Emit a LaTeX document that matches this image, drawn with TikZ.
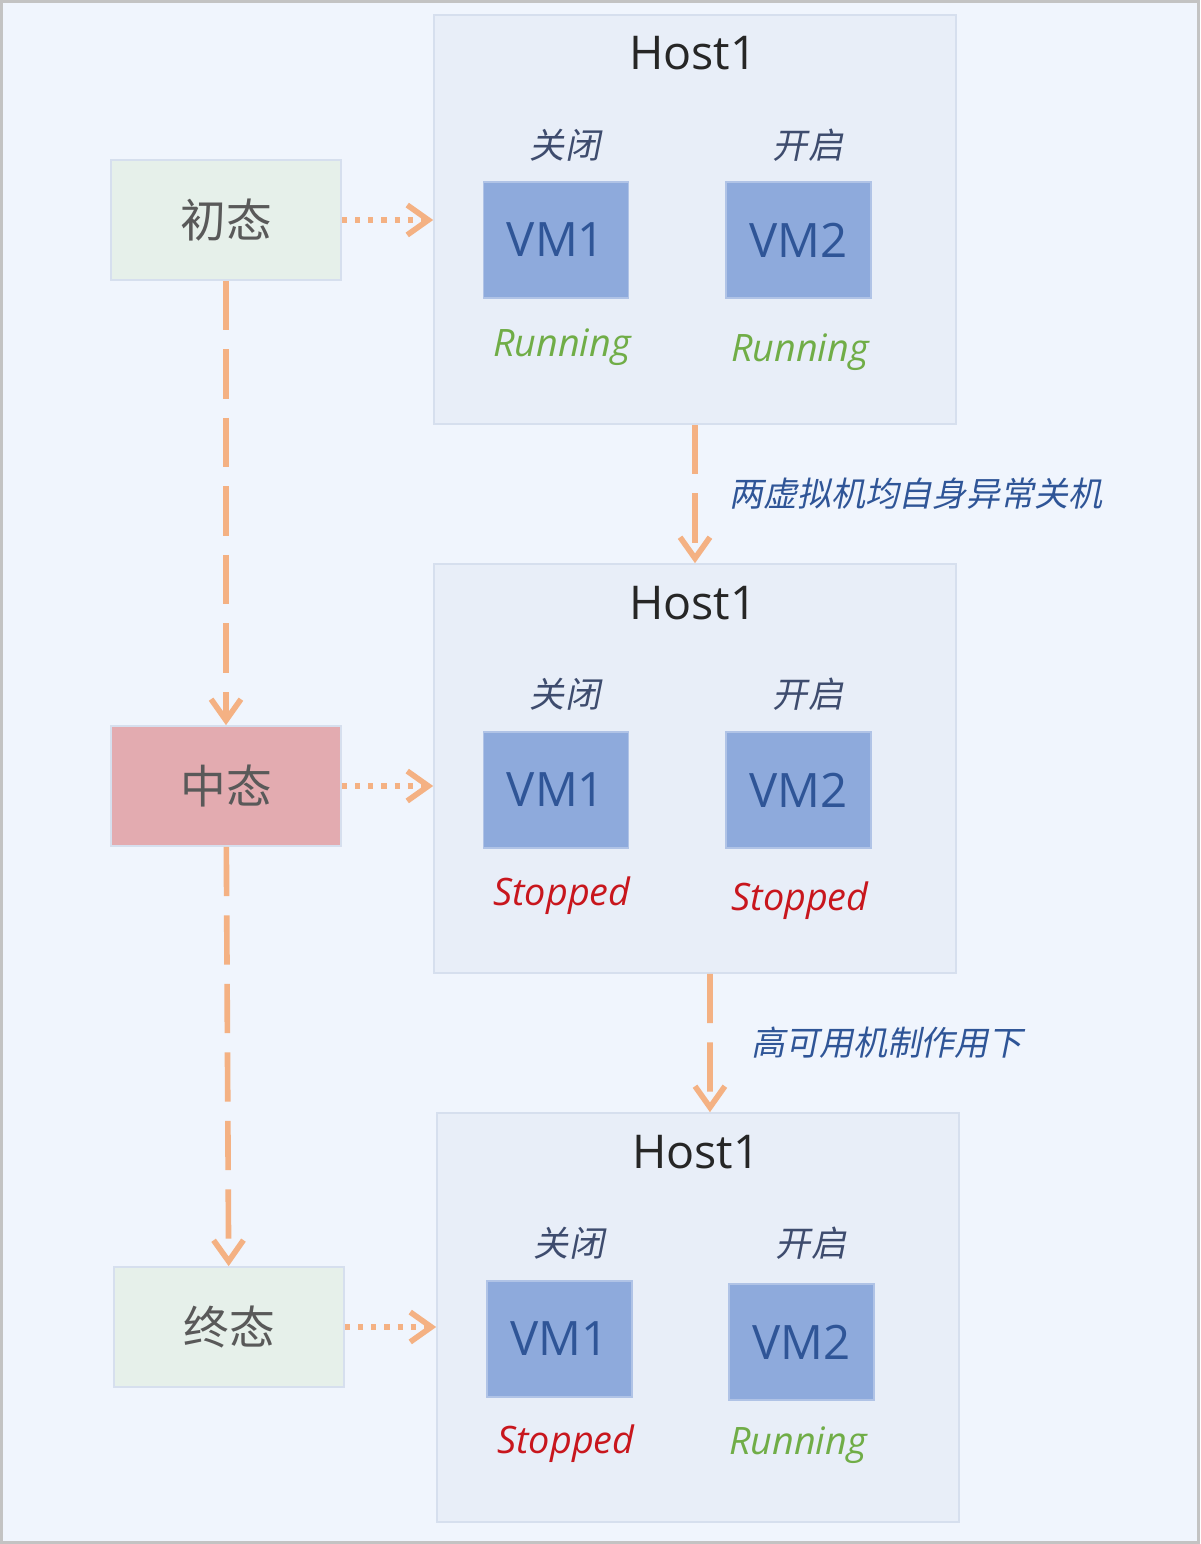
\documentclass[tikz,border=0pt]{standalone}
\usepackage{fontspec}
\setmainfont{Open Sans}
\newfontfamily\cjk{Noto Sans CJK SC}
\newfontfamily\cjkit[FakeSlant=0.2]{Noto Sans CJK SC}
\usetikzlibrary{positioning, arrows.meta}
\definecolor{framegray}{HTML}{C3C3C3}
\definecolor{bgblue}{HTML}{F0F5FD}
\definecolor{hostfill}{HTML}{E8EEF8}
\definecolor{hostline}{HTML}{D6DFEE}
\definecolor{greenfill}{HTML}{E6F0EA}
\definecolor{redfill}{HTML}{E3ABB0}
\definecolor{vmfill}{HTML}{8EAADC}
\definecolor{vmtext}{HTML}{2F5597}
\definecolor{labelblue}{HTML}{3E4C6E}
\definecolor{rungreen}{HTML}{70AD47}
\definecolor{stopred}{HTML}{C8161D}
\definecolor{arroworange}{HTML}{F4B183}
\definecolor{stategray}{HTML}{595959}
\tikzstyle{state}=[draw=hostline,line width=1pt,rectangle,minimum width=4.6cm,minimum height=2.4cm,font=\cjk\fontsize{26}{30}\selectfont,text=stategray]
\tikzstyle{host}=[draw=hostline,fill=hostfill,line width=1pt,rectangle,minimum width=10.44cm,minimum height=8.18cm]
\tikzstyle{vm}=[draw=vmfill!70!white,fill=vmfill,line width=1pt,rectangle,minimum width=2.9cm,minimum height=2.32cm,font=\fontsize{27}{32}\selectfont,text=vmtext]
\tikzstyle{title}=[font=\fontsize{26.5}{32}\selectfont,text=black!85]
\tikzstyle{switch}=[font=\cjkit\fontsize{20}{24}\selectfont,text=labelblue]
\tikzstyle{run}=[font=\itshape\fontsize{21.5}{25}\selectfont,text=rungreen]
\tikzstyle{stop}=[font=\itshape\fontsize{21.5}{25}\selectfont,text=stopred]
\tikzstyle{edgelabel}=[font=\cjkit\fontsize{19.3}{23}\selectfont,text=vmtext,inner sep=0pt]
\tikzstyle{flow}=[draw=arroworange,line width=3.2pt,dash pattern=on 28pt off 11pt,-{Straight Barb[length=12pt,width=17pt]}]
\tikzstyle{link}=[draw=arroworange,line width=3.2pt,dash pattern=on 3pt off 4.5pt,-{Straight Barb[length=12pt,width=17pt]}]

\begin{document}
\begin{tikzpicture}[x=0.02cm, y=-0.02cm]
    \fill[framegray] (0,0) rectangle (1200,1544);
    \fill[bgblue] (3,3) rectangle (1197,1541);

    \node[state, fill=greenfill] (init) at (226,220) {初态};
    \node[state, fill=redfill] (mid) at (226,786) {中态};
    \node[state, fill=greenfill] (final) at (229,1327) {终态};

    % before
    \node[host] (hostA) at (695,219.5) {};
    \node[title] (titleA) at (693,53) {Host1};
    \node[switch] (offA) at (565,145) {关闭};
    \node[switch] (onA) at (808,145) {开启};
    \node[vm] (vmA1) at (556,240) {VM1};
    \node[vm] (vmA2) at (798.5,240) {VM2};
    \node[run] (stA1) at (562,347) {Running};
    \node[run] (stA2) at (800,352) {Running};

    % crash
    \node[host] (hostB) at (695,768.5) {};
    \node[title] (titleB) at (693,603) {Host1};
    \node[switch] (offB) at (565,694) {关闭};
    \node[switch] (onB) at (808,694) {开启};
    \node[vm] (vmB1) at (556,790) {VM1};
    \node[vm] (vmB2) at (798.5,790) {VM2};
    \node[stop] (stB1) at (562,896) {Stopped};
    \node[stop] (stB2) at (800,901) {Stopped};

    % after HA
    \node[host] (hostC) at (698,1317.5) {};
    \node[title] (titleC) at (696,1152) {Host1};
    \node[switch] (offC) at (569,1243) {关闭};
    \node[switch] (onC) at (811,1243) {开启};
    \node[vm] (vmC1) at (559.5,1339) {VM1};
    \node[vm] (vmC2) at (801.5,1342) {VM2};
    \node[stop] (stC1) at (566,1444) {Stopped};
    \node[run] (stC2) at (798,1445) {Running};

    \draw[link] (init.east) -- (init.east -| hostA.west);
    \draw[link] (mid.east) -- (mid.east -| hostB.west);
    \draw[link] (final.east) -- (final.east -| hostC.west);
    \draw[flow] (init) -- (mid);
    \draw[flow] (mid) -- (final);
    \draw[flow] (hostA) -- node[midway, right=18pt, edgelabel] {两虚拟机均自身异常关机} (hostB);
    \draw[flow] ([xshift=8.5pt]hostB.south) -- node[midway, right=22pt, edgelabel] {高可用机制作用下} ([xshift=6.8pt]hostC.north);
\end{tikzpicture}
\end{document}
